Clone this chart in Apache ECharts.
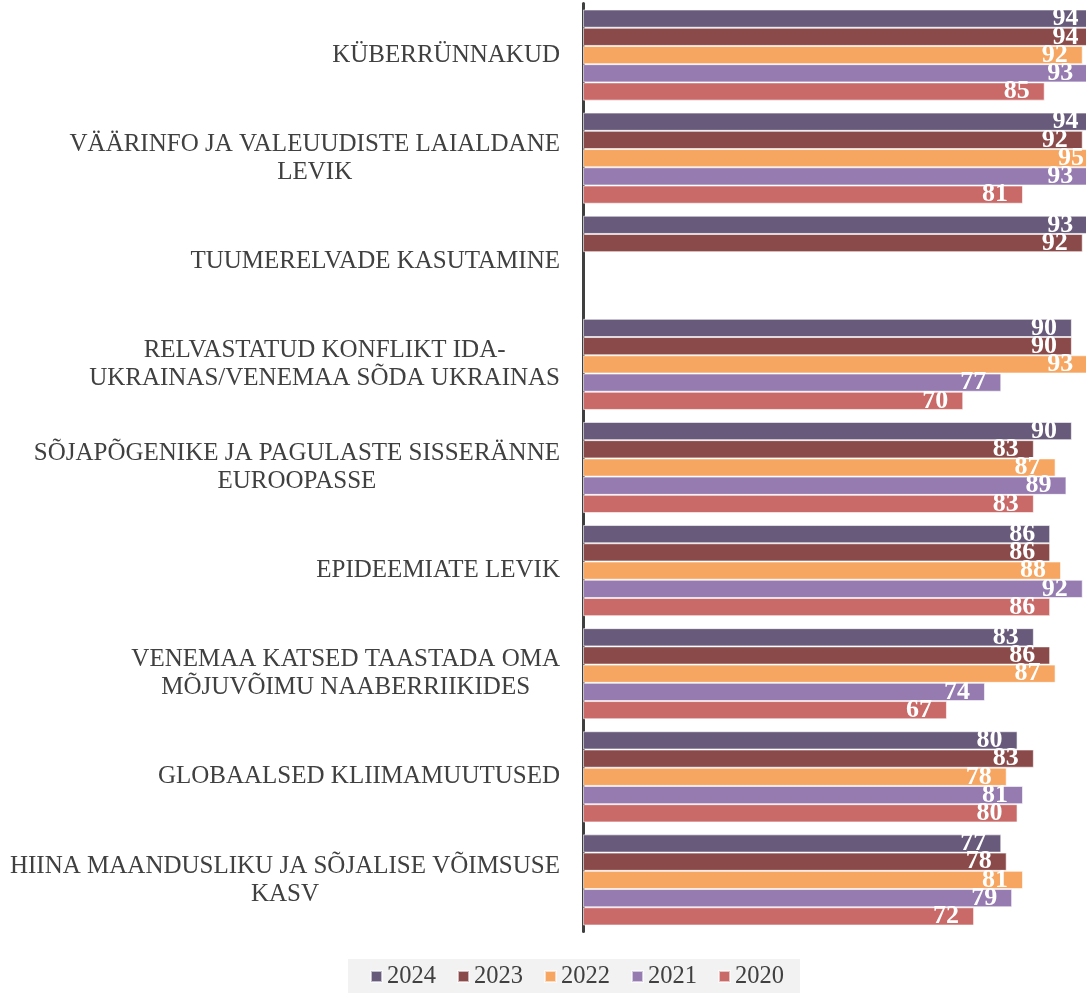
<!DOCTYPE html>
<html>
<head>
<meta charset="utf-8">
<script src="https://cdn.jsdelivr.net/npm/echarts@6/dist/echarts.min.js"></script>
<style>
  html, body { margin: 0; padding: 0; background: #fff; }
  #chart { width: 1086px; height: 993px; }
</style>
</head>
<body>
<div id="chart"></div>
<script>
const categories = [
  'KÜBERRÜNNAKUD',
  'VÄÄRINFO JA VALEUUDISTE LAIALDANE\nLEVIK',
  'TUUMERELVADE KASUTAMINE',
  'RELVASTATUD KONFLIKT IDA-\nUKRAINAS/VENEMAA SÕDA UKRAINAS',
  'SÕJAPÕGENIKE JA PAGULASTE SISSERÄNNE\nEUROOPASSE',
  'EPIDEEMIATE LEVIK',
  'VENEMAA KATSED TAASTADA OMA\nMÕJUVÕIMU NAABERRIIKIDES',
  'GLOBAALSED KLIIMAMUUTUSED',
  'HIINA MAANDUSLIKU JA SÕJALISE VÕIMSUSE\nKASV'
]
const years = ['2024', '2023', '2022', '2021', '2020']
const values2024 = [94, 94, 93, 90, 90, 86, 83, 80, 77]
const values2023 = [94, 92, 92, 90, 83, 86, 86, 83, 78]
const values2022 = [92, 95, null, 93, 87, 88, 87, 78, 81]
const values2021 = [93, 93, null, 77, 89, 92, 74, 81, 79]
const values2020 = [85, 81, null, 70, 83, 86, 67, 80, 72]
const colors = ['#675a7a', '#8b4a4a', '#f7a661', '#957bb0', '#c96a68']

const serif = "'Liberation Serif', 'Times New Roman', serif"
const allValues = [values2024, values2023, values2022, values2021, values2020]

const chart = echarts.init(document.getElementById('chart'))

// the original is cut off at the right edge, so the visible end of the axis is about 92.6
chart.setOption({
  animation: false,
  color: colors,
  grid: { left: 583, top: 3.5, right: 0, height: 928, containLabel: false },
  legend: {
    data: years,
    left: 348,
    top: 959,
    padding: [5, 16, 5, 22],
    backgroundColor: '#f2f2f2',
    itemWidth: 11,
    itemHeight: 11,
    itemGap: 21,
    icon: 'rect',
    textStyle: { fontFamily: serif, fontSize: 24.5, color: '#404040' },
  },
  xAxis: {
    type: 'value',
    min: 0,
    max: 92.6,
    show: false,
    splitLine: { show: false },
  },
  yAxis: {
    type: 'category',
    inverse: true,
    data: categories,
    axisTick: { show: false },
    axisLine: { show: true, lineStyle: { color: '#3f3f3f', width: 3 } },
    axisLabel: {
      margin: 23,
      color: '#404040',
      fontFamily: serif,
      fontSize: 25,
      lineHeight: 28,
      formatter: (v) => v.split('\n').map(s => '{c|' + s + '}').join('\n'),
      rich: {
        c: { align: 'center', fontFamily: serif, fontSize: 25, lineHeight: 28, color: '#404040' },
      },
    },
  },
  series: years.map((y, i) => ({
    name: y,
    type: 'bar',
    data: allValues[i],
    clip: false,
    barGap: '0%',
    barCategoryGap: '11.6%',
    itemStyle: { color: colors[i], borderColor: 'rgba(255,255,255,0.6)', borderWidth: 1 },
    label: {
      show: true,
      position: 'insideRight',
      distance: 15,
      color: '#fff',
      fontFamily: serif,
      fontWeight: 'bold',
      fontSize: 26,
    },
  })),
})
</script>
</body>
</html>
